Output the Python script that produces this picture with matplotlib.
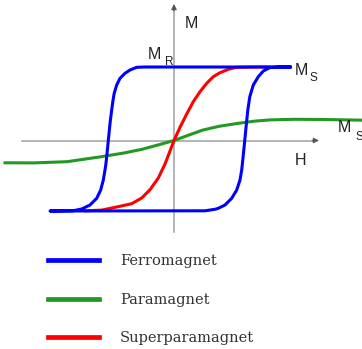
import matplotlib.pyplot as plt

# curves (H, M in arbitrary units)
ferro_H = [116, -29, -37.3, -44, -49, -54, -57.3, -59.8, -61.2, -62.3, -63.8, -65.7, -67.1, -68.2, -69,
           -70.7, -73.3, -77.3, -84, -92.3, -100.7, -124,
           31, 41, 44.3, 51, 57.7, 62.7, 66, 67.7, 69.3, 70.8, 72.1, 73.8, 75.8, 79.3, 84.3, 89.3, 96, 106, 116]
ferro_M = [73.5, 73.5, 73.2, 70.5, 67.2, 62.2, 55.5, 47.2, 38.8, 30.5, 18.8, 0, -14.5, -24.2, -29.5,
           -39.5, -49.5, -57.8, -64.5, -68.5, -70.2, -70.5,
           -70.3, -68.8, -67.8, -64.5, -57.8, -49.5, -39.5, -29.5, -14.5, 0.5, 13.8, 30.5, 43.8, 55.5, 63.8, 69.5, 73, 73.5, 73.5]

para_H = [-169, -140, -107, -74, -50, -32, -15, 0, 15, 29, 45, 63, 80, 96, 120, 150, 190]
para_M = [-22.3, -22.4, -21.2, -16.4, -12.5, -8.8, -4.2, 0, 5.5, 10.5, 14.2, 17, 19.3, 20.6, 21.2, 21, 20.3]

superpara_H = [-88, -72.3, -55, -42.3, -32.3, -24, -15.7, -9, -4, 0, 6, 12.7, 19.3, 26, 32.7, 39.3,
               46, 54.3, 62.7, 82.7, 95]
superpara_M = [-70.3, -69.6, -66, -63.2, -57.5, -49.2, -37.5, -23.5, -10.5, 0, 13.2, 26.5, 38.8, 48.8,
               57.2, 63.8, 67.8, 71.2, 73.2, 73.5, 73.5]

labels = ["Ferromagnet", "Paramagnet", "Superparamagnet"]
colors = ["#0000ff", "#229922", "#ff0000"]

fig = plt.figure(figsize=(3.62, 3.49), dpi=100)
ax = fig.add_axes([0, 0, 1, 1])
ax.set_xlim(-174, 188)
ax.set_ylim(-208.5, 140.5)
ax.axis("off")

# axes with arrows
ax.plot([-152, 141], [0, 0], color="#a8a8a8", lw=1.2, zorder=1)
ax.plot([0, 0], [-91.5, 132], color="#a8a8a8", lw=1.2, zorder=1)
ax.annotate("", xy=(145, 0), xytext=(138, 0),
            arrowprops=dict(arrowstyle="-|>", color="#555555", lw=0.8, mutation_scale=8,
                            shrinkA=0, shrinkB=0), zorder=1)
ax.annotate("", xy=(0, 136.5), xytext=(0, 129.5),
            arrowprops=dict(arrowstyle="-|>", color="#555555", lw=0.8, mutation_scale=8,
                            shrinkA=0, shrinkB=0), zorder=1)

l1, = ax.plot(ferro_H, ferro_M, color=colors[0], lw=2.2, label=labels[0], zorder=3,
              solid_joinstyle="round")
l2, = ax.plot(para_H, para_M, color=colors[1], lw=2.2, label=labels[1], zorder=2,
              solid_joinstyle="round")
l3, = ax.plot(superpara_H, superpara_M, color=colors[2], lw=2.2, label=labels[2], zorder=2.5,
              solid_joinstyle="round")

tc = "#222222"
sans = "Liberation Sans"
ax.text(11, 112.5, "M", fontsize=11.5, family=sans, color=tc, va="baseline")
ax.text(-26, 81.5, "M", fontsize=11.5, family=sans, color=tc, va="baseline", zorder=1)
ax.text(-9, 75.5, "R", fontsize=8.5, family=sans, color=tc, va="baseline", zorder=1)
ax.text(121, 65.5, "M", fontsize=11.5, family=sans, color=tc, va="baseline")
ax.text(136, 59.5, "S", fontsize=8.5, family=sans, color=tc, va="baseline")
ax.text(164, 8.5, "M", fontsize=11.5, family=sans, color=tc, va="baseline")
ax.text(181, 0.5, "S", fontsize=8.5, family=sans, color=tc, va="baseline")
ax.text(121, -24.5, "H", fontsize=11.5, family=sans, color=tc, va="baseline")

leg = fig.legend(handles=[l1, l2, l3], loc="upper left",
                 bbox_to_anchor=(48 / 362, 1 - 254 / 349), bbox_transform=fig.transFigure,
                 frameon=False, borderpad=0, borderaxespad=0,
                 handlelength=3.5, handletextpad=1.45, labelspacing=1.69,
                 prop={"family": "DejaVu Serif", "size": 10.5})
for h in leg.legend_handles:
    h.set_linewidth(3.4)
for t in leg.get_texts():
    t.set_color("#333333")

fig.savefig("out.png", dpi=100)
